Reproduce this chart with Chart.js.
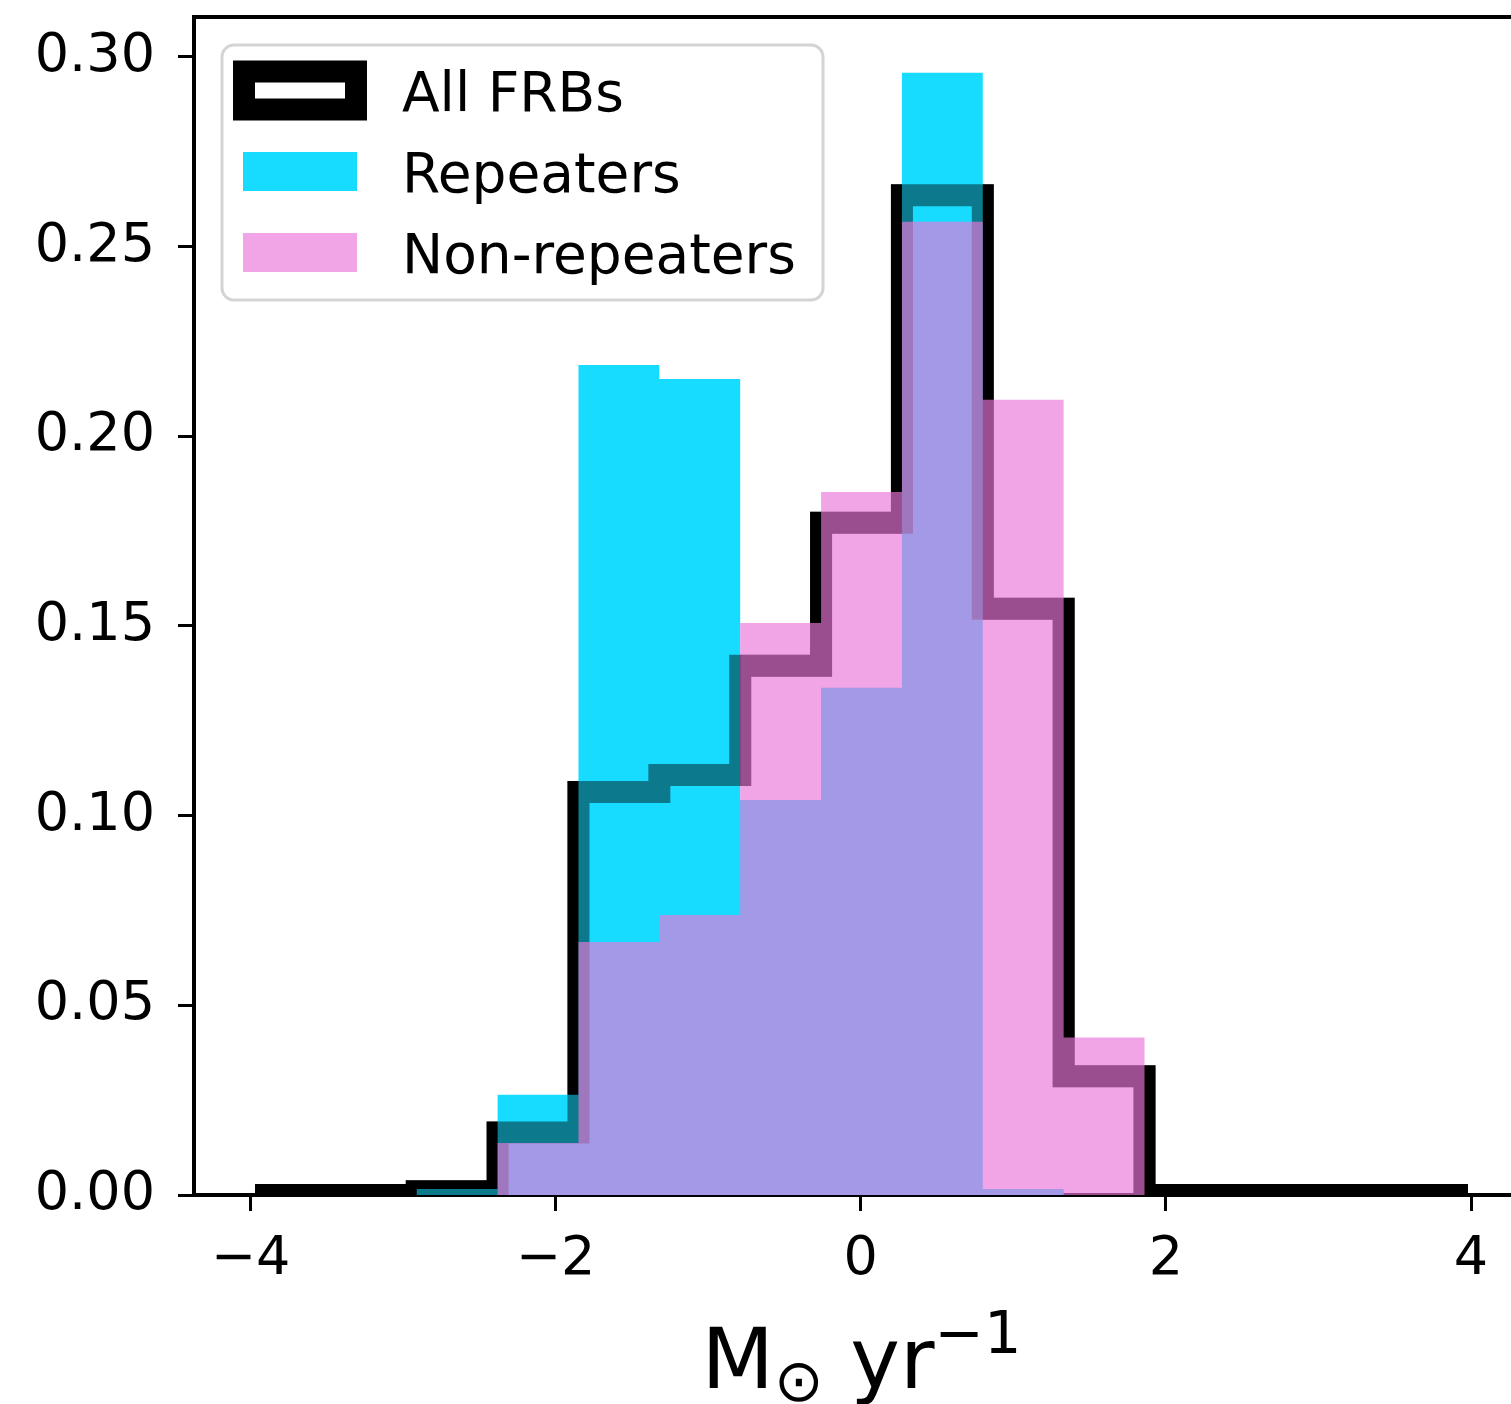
<!DOCTYPE html>
<html lang="en">
<head>
<meta charset="UTF-8">
<title>SFR histogram</title>
<style>
  * { margin: 0; padding: 0; }
  body { width: 1511px; height: 1404px; overflow: hidden; background: #fff; }
  #wrap { width: 1540px; height: 1404px; }
</style>
</head>
<body>
<div id="wrap"><canvas id="sfrChart" width="1540" height="1404"></canvas></div>
<script src="https://cdn.jsdelivr.net/npm/chart.js@4.4.0/dist/chart.umd.min.js"></script>
<script>
// histogram bins and heights
const binEdges = [-3.97, -3.44, -2.91, -2.38, -1.85, -1.32, -0.79, -0.26, 0.27, 0.80, 1.33, 1.86, 2.39, 2.92, 3.45, 3.98];
const allFrbs = [0, 0, 0.001, 0.0165, 0.1062, 0.1107, 0.1395, 0.1772, 0.2635, 0.1545, 0.0313, 0, 0, 0, 0];
const repeaters = [0, 0, 0.0016, 0.0264, 0.2188, 0.2151, 0.1041, 0.1337, 0.2958, 0.0016, 0, 0, 0, 0, 0];
const nonRepeaters = [0, 0, 0, 0.0137, 0.0667, 0.0738, 0.1508, 0.1853, 0.2565, 0.2096, 0.0415, 0, 0, 0, 0];
const seriesNames = ['All FRBs', 'Repeaters', 'Non-repeaters'];
const xTicks = [-4, -2, 0, 2, 4];
const yTicks = [0, 0.05, 0.10, 0.15, 0.20, 0.25, 0.30];
const xRange = [-4.37, 4.38];
const yRange = [0, 0.3105];

const FONT = 'DejaVu Sans';
const cyan = '#18dcff';
const pink = 'rgba(236,118,217,0.66)';

// step outline points: value of bin i holds from edge i to edge i+1
function steps(vals) {
    const pts = [{x: binEdges[0], y: 0}];
    vals.forEach((v, i) => pts.push({x: binEdges[i], y: v}));
    pts.push({x: binEdges[binEdges.length - 1], y: 0});
    return pts;
}

const lineBase = {stepped: true, pointRadius: 0, tension: 0, clip: 0,
    borderJoinStyle: 'miter', borderCapStyle: 'butt'};

// top / right spines
const frame = {
    id: 'frame',
    afterDraw(chart) {
        const {ctx, chartArea: a} = chart;
        ctx.save();
        ctx.strokeStyle = '#000';
        ctx.lineWidth = 4;
        ctx.beginPath();
        ctx.moveTo(a.left - 2, a.top);
        ctx.lineTo(a.right, a.top);
        ctx.lineTo(a.right, a.bottom);
        ctx.stroke();
        ctx.restore();
    }
};

// matplotlib-like legend in upper left
const boxLegend = {
    id: 'boxLegend',
    afterDraw(chart) {
        const {ctx, chartArea: a} = chart;
        const x0 = a.left + 28, y0 = a.top + 28, w = 601, h = 255, r = 12;
        ctx.save();
        ctx.beginPath();
        ctx.moveTo(x0 + r, y0);
        ctx.arcTo(x0 + w, y0, x0 + w, y0 + h, r);
        ctx.arcTo(x0 + w, y0 + h, x0, y0 + h, r);
        ctx.arcTo(x0, y0 + h, x0, y0, r);
        ctx.arcTo(x0, y0, x0 + w, y0, r);
        ctx.closePath();
        ctx.fillStyle = 'rgba(255,255,255,0.8)';
        ctx.fill();
        ctx.strokeStyle = '#d4d4d4';
        ctx.lineWidth = 3;
        ctx.stroke();

        const rows = [y0 + 45.5, y0 + 126.5, y0 + 207.5];
        const px = x0 + 21, pw = 114, ph = 39;
        // All FRBs: hollow box
        ctx.strokeStyle = '#000';
        ctx.lineWidth = 22;
        ctx.lineJoin = 'miter';
        ctx.strokeRect(px + 1, rows[0] - 19, pw - 2, 38);
        // Repeaters
        ctx.fillStyle = cyan;
        ctx.fillRect(px, rows[1] - ph / 2, pw, ph);
        // Non-repeaters
        ctx.fillStyle = pink;
        ctx.fillRect(px, rows[2] - ph / 2, pw, ph);

        ctx.fillStyle = '#000';
        ctx.font = '55px "' + FONT + '"';
        ctx.textAlign = 'left';
        ctx.textBaseline = 'alphabetic';
        seriesNames.forEach((s, i) => ctx.fillText(s, x0 + 180, rows[i] + 20));
        ctx.restore();
    }
};

// x axis label with sub/superscript
const axisLabel = {
    id: 'axisLabel',
    afterDraw(chart) {
        const {ctx, chartArea: a} = chart;
        const big = '84px "' + FONT + '"', small = '59px "' + FONT + '"';
        const parts = [['M', big, 0], ['\u2299', small, 13], [' yr', big, 0], ['\u22121', small, -35]];
        ctx.save();
        ctx.fillStyle = '#000';
        ctx.textAlign = 'left';
        ctx.textBaseline = 'alphabetic';
        let total = 0;
        parts.forEach(p => { ctx.font = p[1]; total += ctx.measureText(p[0]).width; });
        let x = (a.left + a.right) / 2 - total / 2;
        const base = a.bottom + 193;
        parts.forEach(p => {
            ctx.font = p[1];
            ctx.fillText(p[0], x, base + p[2]);
            x += ctx.measureText(p[0]).width;
        });
        ctx.restore();
    }
};

const tickFont = {family: FONT, size: 54};

new Chart(document.getElementById('sfrChart'), {
    type: 'line',
    data: {
        datasets: [
            Object.assign({label: seriesNames[0], data: steps(allFrbs), borderColor: '#000',
                borderWidth: 22, fill: false, order: 4}, lineBase),
            Object.assign({label: seriesNames[1], data: steps(repeaters), borderColor: 'rgba(0,0,0,0)',
                borderWidth: 1, backgroundColor: cyan, fill: 'origin', order: 3}, lineBase),
            // shade of the outline where the cyan covers it
            Object.assign({label: 'outline shade', data: steps(allFrbs), borderColor: 'rgba(0,0,0,0.45)',
                borderWidth: 22, fill: false, order: 2}, lineBase),
            Object.assign({label: seriesNames[2], data: steps(nonRepeaters), borderColor: 'rgba(0,0,0,0)',
                borderWidth: 1, backgroundColor: pink, fill: 'origin', order: 1}, lineBase)
        ]
    },
    options: {
        responsive: false,
        animation: false,
        devicePixelRatio: 1,
        layout: {padding: {top: 17, right: 11, bottom: 0, left: 0}},
        plugins: {legend: {display: false}, tooltip: {enabled: false}},
        scales: {
            x: {
                type: 'linear', min: xRange[0], max: xRange[1], z: 1,
                afterBuildTicks: s => { s.ticks = xTicks.map(v => ({value: v})); },
                afterFit: s => { s.height = 209; s.paddingLeft = 0; s.paddingRight = 0; },
                grid: {drawOnChartArea: false, drawTicks: true, tickLength: 16, tickWidth: 3, tickColor: '#000'},
                border: {display: true, color: '#000', width: 4},
                ticks: {font: tickFont, color: '#000', padding: 17, maxRotation: 0, autoSkip: false,
                    callback: v => v < 0 ? '\u2212' + Math.abs(v) : String(v)}
            },
            y: {
                type: 'linear', min: yRange[0], max: yRange[1], z: 1,
                afterBuildTicks: s => { s.ticks = yTicks.map(v => ({value: v})); },
                afterFit: s => { s.width = 194; s.paddingTop = 0; s.paddingBottom = 0; },
                grid: {drawOnChartArea: false, drawTicks: true, tickLength: 16, tickWidth: 3, tickColor: '#000'},
                border: {display: true, color: '#000', width: 4},
                ticks: {font: tickFont, color: '#000', padding: 23, autoSkip: false,
                    callback: v => v.toFixed(2)}
            }
        }
    },
    plugins: [frame, boxLegend, axisLabel]
});
</script>
</body>
</html>
